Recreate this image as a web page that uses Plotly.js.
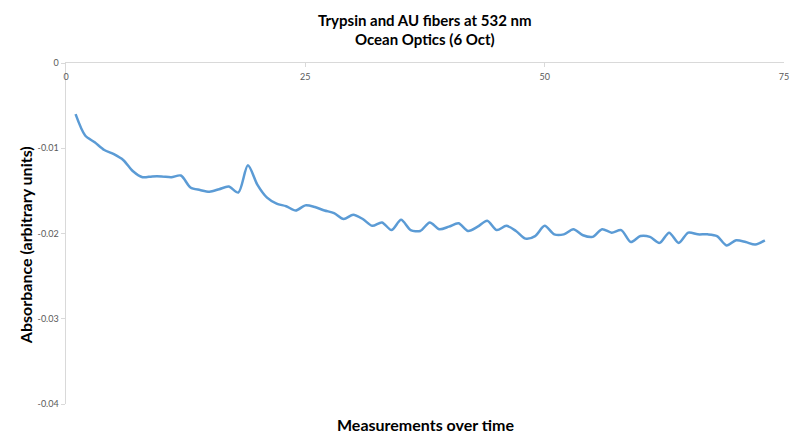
<!DOCTYPE html>
<html>
<head>
<meta charset="utf-8">
<script src="https://cdn.plot.ly/plotly-3.0.1.min.js"></script>
<style>
  body { margin: 0; background: #fff; }
  #graph { width: 800px; height: 440px; }
</style>
</head>
<body>
<div id="graph"></div>
<script>
const measurements = [];
for (let i = 1; i <= 73; i++) measurements.push(i);

const absorbance = [
  -0.0060, -0.0085, -0.0093, -0.0102, -0.0107, -0.0114, -0.0127, -0.0134, -0.0133, -0.0133,
  -0.0134, -0.0132, -0.0146, -0.0149, -0.0151, -0.0148, -0.0145, -0.0152, -0.0120, -0.0143,
  -0.0158, -0.0165, -0.0168, -0.0173, -0.0167, -0.0169, -0.0173, -0.0176, -0.0183, -0.0178,
  -0.0183, -0.0191, -0.0187, -0.0196, -0.0184, -0.0196, -0.0197, -0.0187, -0.0195, -0.0192,
  -0.0188, -0.0197, -0.0192, -0.0185, -0.0196, -0.0191, -0.0197, -0.0206, -0.0203, -0.0191,
  -0.0201, -0.0201, -0.0195, -0.0202, -0.0204, -0.0195, -0.0199, -0.0196, -0.0210, -0.0203,
  -0.0204, -0.0211, -0.0199, -0.0211, -0.0199, -0.0201, -0.0201, -0.0203, -0.0214, -0.0208,
  -0.0210, -0.0213, -0.0208
];

const xTicks = [0, 25, 50, 75];
const yTicks = [0, -0.01, -0.02, -0.03, -0.04];
const yTickLabels = ["0", "-0.01", "-0.02", "-0.03", "-0.04"];

const font = "Lato, 'Open Sans', sans-serif";

Plotly.newPlot("graph", [
  {
    x: measurements,
    y: absorbance,
    mode: "lines",
    line: { color: "#5B9BD5", width: 2.5, shape: "spline", smoothing: 0.8 },
    hoverinfo: "x+y",
  },
], {
  width: 800,
  height: 440,
  margin: { l: 66, r: 16, t: 63, b: 36 },
  paper_bgcolor: "#fff",
  plot_bgcolor: "#fff",
  showlegend: false,
  font: { family: font, color: "#595959", size: 9 },
  title: {
    text: "<b>Trypsin and AU fibers at 532 nm<br>Ocean Optics (6 Oct)</b>",
    font: { family: font, size: 15, color: "#000" },
    x: 0.531,
    xanchor: "center",
    y: 0.942,
    yanchor: "top",
  },
  xaxis: {
    range: [0, 75],
    side: "top",
    tickvals: xTicks,
    ticks: "inside",
    ticklen: 4,
    tickcolor: "#d9d9d9",
    ticklabelposition: "outside",
    ticklabelstandoff: -22,
    showline: true,
    linecolor: "#d9d9d9",
    linewidth: 1.5,
    showgrid: false,
    zeroline: false,
  },
  yaxis: {
    range: [-0.04, 0],
    tickvals: yTicks,
    ticktext: yTickLabels,
    ticks: "outside",
    ticklen: 4,
    tickcolor: "#d9d9d9",
    showline: true,
    linecolor: "#d9d9d9",
    linewidth: 1.5,
    showgrid: false,
    zeroline: false,
  },
  annotations: [
    {
      text: "<b>Measurements over time</b>",
      xref: "paper", yref: "paper",
      x: 0.5, y: -0.025, xanchor: "center", yanchor: "top",
      showarrow: false,
      font: { family: font, size: 16, color: "#000" },
    },
    {
      text: "<b>Absorbance (arbitrary units)</b>",
      xref: "paper", yref: "paper",
      x: -0.057, y: 0.466, xanchor: "center", yanchor: "middle",
      textangle: -90,
      showarrow: false,
      font: { family: font, size: 16, color: "#000" },
    },
  ],
}, { displayModeBar: false, staticPlot: true });
</script>
</body>
</html>
